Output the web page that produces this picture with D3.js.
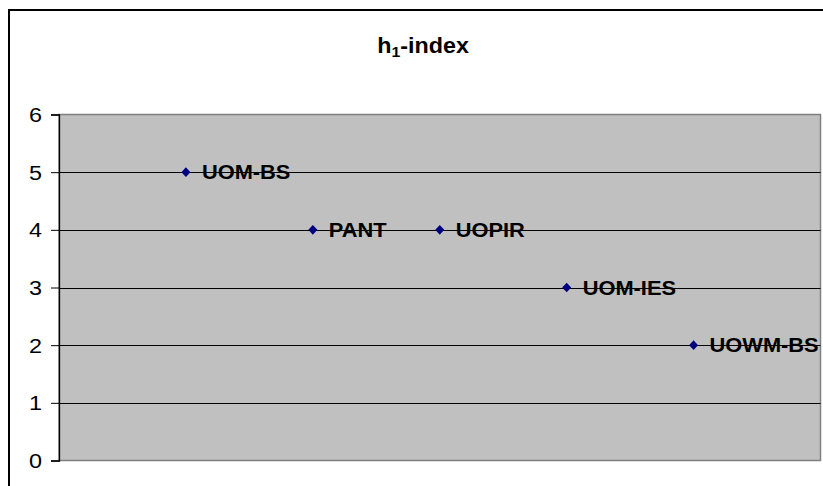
<!DOCTYPE html>
<html>
<head>
<meta charset="utf-8">
<script src="https://cdn.jsdelivr.net/npm/d3@7"></script>
<style>
  html, body { margin: 0; padding: 0; background: #ffffff; }
  svg { display: block; }
  text { font-family: Arial, "Liberation Sans", sans-serif; }
</style>
</head>
<body>
<svg id="chart" width="823" height="486"></svg>
<script>
// ---- data ----
const categories = ["UOM-BS", "PANT", "UOPIR", "UOM-IES", "UOWM-BS"];
const xPositions = [1, 2, 3, 4, 5];
const h1Values = [5, 4, 4, 3, 2];
const yTicks = [0, 1, 2, 3, 4, 5, 6];
const titleMain = "h";
const titleSub = "1";
const titleRest = "-index";

// ---- layout ----
const plot = { left: 59, top: 114.5, right: 820.5, bottom: 460.5 };
const sx = 1.12; // horizontal stretch of text in the reference

const svg = d3.select("#chart");

// outer chart border (extends beyond the viewport on the right/bottom)
svg.append("rect")
  .attr("x", 9).attr("y", 10)
  .attr("width", 840).attr("height", 500)
  .attr("fill", "#ffffff")
  .attr("stroke", "#000").attr("stroke-width", 2);

const x = d3.scaleLinear().domain([0, 6]).range([plot.left, plot.right]);
const y = d3.scaleLinear().domain([0, 6]).range([plot.bottom, plot.top]);

// plot area
svg.append("rect")
  .attr("x", plot.left).attr("y", plot.top)
  .attr("width", plot.right - plot.left).attr("height", plot.bottom - plot.top)
  .attr("fill", "#C0C0C0")
  .attr("stroke", "#808080").attr("stroke-width", 1.5);

// gridlines
svg.append("g")
  .selectAll("line")
  .data(yTicks.filter(d => d > 0 && d < 6))
  .join("line")
  .attr("x1", plot.left).attr("x2", plot.right)
  .attr("y1", d => Math.round(y(d)) + 0.5).attr("y2", d => Math.round(y(d)) + 0.5)
  .attr("stroke", "#000").attr("stroke-width", 1);

// y axis
const yAxis = d3.axisLeft(y).tickValues(yTicks).tickSize(8).tickPadding(9)
  .tickFormat(d3.format("d"));
const gy = svg.append("g").attr("transform", `translate(${plot.left},0)`).call(yAxis);
gy.select(".domain").attr("stroke", "#000").attr("stroke-width", 1.3);
gy.selectAll(".tick line").attr("stroke", "#000");
gy.selectAll(".tick text")
  .attr("fill", "#000")
  .style("font-size", "19.5px")
  .attr("dy", "0.36em")
  .each(function(d) {
    const t = d3.select(this);
    const xx = +t.attr("x");
    t.attr("x", null)
     .attr("transform", `translate(${xx},0) scale(1.2,1)`);
  });

// title
const title = svg.append("text")
  .attr("transform", `translate(423,53) scale(1.06,1)`)
  .attr("text-anchor", "middle")
  .style("font-size", "22px").style("font-weight", "bold")
  .attr("fill", "#000");
title.append("tspan").text(titleMain);
title.append("tspan").text(titleSub).style("font-size", "15px").attr("dy", 4);
title.append("tspan").text(titleRest).attr("dy", -4);

// data points
const pts = xPositions.map((xp, i) => ({ x: xp, v: h1Values[i], label: categories[i] }));
const diamond = "M0,-4.8L4.5,0L0,4.8L-4.5,0Z";

const g = svg.append("g");
g.selectAll("path.pt")
  .data(pts)
  .join("path")
  .attr("class", "pt")
  .attr("d", diamond)
  .attr("transform", d => `translate(${x(d.x)},${y(d.v)})`)
  .attr("fill", "#000080");

g.selectAll("text.lbl")
  .data(pts)
  .join("text")
  .attr("class", "lbl")
  .attr("transform", d => `translate(${x(d.x) + 16},${y(d.v) + 7}) scale(${sx},1)`)
  .style("font-size", "19.5px").style("font-weight", "bold")
  .attr("fill", "#000")
  .text(d => d.label);
</script>
</body>
</html>
